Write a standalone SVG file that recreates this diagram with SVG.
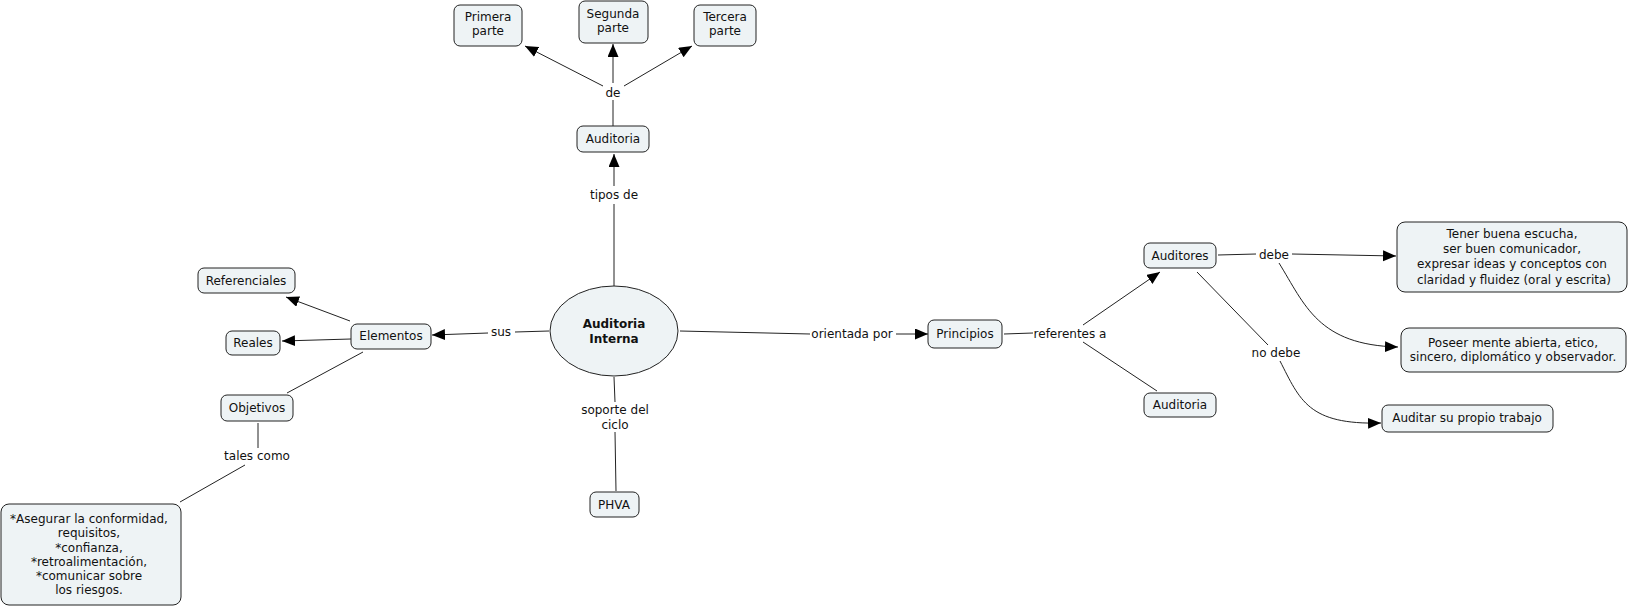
<svg xmlns="http://www.w3.org/2000/svg" width="1629" height="607" viewBox="0 0 1629 607">
<style>
  .node rect, .node ellipse { fill: #eef3f5; stroke: #222; stroke-width: 1; }
  text { font-family: "DejaVu Sans", Verdana, sans-serif; font-size: 12px; fill: #111; text-anchor: middle; }
  .bold { font-weight: bold; }
  .conn line, .conn path { stroke: #222; stroke-width: 1; fill: none; }
  .arrow { marker-end: url(#ah); }
</style>
<defs>
  <marker id="ah" markerUnits="userSpaceOnUse" markerWidth="14" markerHeight="12" refX="13" refY="5.5" orient="auto">
    <path d="M0,0 L13,5.5 L0,11 z" fill="#000"/>
  </marker>
</defs>
<rect width="1629" height="607" fill="#fff"/>
<g id="connectors" class="conn">
  <line x1="614" y1="286" x2="614" y2="204"/>
  <line class="arrow" x1="614" y1="186" x2="614" y2="154"/>
  <line x1="613" y1="126" x2="613" y2="100"/>
  <line class="arrow" x1="603" y1="86" x2="525" y2="46"/>
  <line class="arrow" x1="613" y1="83" x2="613" y2="44"/>
  <line class="arrow" x1="624" y1="86" x2="692" y2="46"/>
  <line x1="549" y1="331" x2="515" y2="332"/>
  <line class="arrow" x1="488" y1="333" x2="432" y2="335"/>
  <line class="arrow" x1="350" y1="321" x2="286" y2="297"/>
  <line class="arrow" x1="351" y1="339" x2="282" y2="341"/>
  <line x1="363" y1="352" x2="287" y2="393"/>
  <line x1="258" y1="423" x2="258" y2="448"/>
  <line x1="245" y1="465" x2="180" y2="502"/>
  <line x1="614" y1="377" x2="615" y2="402"/>
  <line x1="615" y1="432" x2="616" y2="491"/>
  <line x1="680" y1="331" x2="810" y2="334"/>
  <line class="arrow" x1="896" y1="334" x2="928" y2="334"/>
  <line x1="1004" y1="334" x2="1033" y2="333"/>
  <line class="arrow" x1="1083" y1="325" x2="1160" y2="272"/>
  <line x1="1083" y1="342" x2="1157" y2="391"/>
  <line x1="1218" y1="255" x2="1256" y2="254"/>
  <line class="arrow" x1="1292" y1="254" x2="1396" y2="256"/>
  <path class="arrow" d="M1279,263 C1305,305 1318,345 1398,347"/>
  <line x1="1197" y1="272" x2="1268" y2="345"/>
  <path class="arrow" d="M1280,361 C1300,400 1308,425 1381,423"/>
</g>
<g id="labels">
  <text x="613" y="97">de</text>
  <text x="614" y="199">tipos de</text>
  <text x="501" y="336">sus</text>
  <text x="852" y="338">orientada por</text>
  <text x="1070" y="338">referentes a</text>
  <text x="1274" y="259">debe</text>
  <text x="1276" y="357">no debe</text>
  <text x="615" y="414">soporte del</text>
  <text x="615" y="429">ciclo</text>
  <text x="257" y="460">tales como</text>
</g>
<g id="n-central" class="node">
  <ellipse cx="614" cy="331" rx="64" ry="45"/>
  <text class="bold" x="614" y="328">Auditoria</text>
  <text class="bold" x="614" y="343">Interna</text>
</g>
<g id="n-auditoria-top" class="node">
  <rect x="577" y="126" width="72" height="26" rx="6"/>
  <text x="613" y="143">Auditoria</text>
</g>
<g id="n-primera" class="node">
  <rect x="454" y="5" width="68" height="41" rx="6"/>
  <text x="488" y="21">Primera</text>
  <text x="488" y="35">parte</text>
</g>
<g id="n-segunda" class="node">
  <rect x="579" y="1" width="69" height="42" rx="6"/>
  <text x="613" y="18">Segunda</text>
  <text x="613" y="32">parte</text>
</g>
<g id="n-tercera" class="node">
  <rect x="694" y="5" width="62" height="41" rx="6"/>
  <text x="725" y="21">Tercera</text>
  <text x="725" y="35">parte</text>
</g>
<g id="n-elementos" class="node">
  <rect x="351" y="324" width="80" height="25" rx="6"/>
  <text x="391" y="340">Elementos</text>
</g>
<g id="n-referenciales" class="node">
  <rect x="198" y="268" width="97" height="25" rx="6"/>
  <text x="246" y="285">Referenciales</text>
</g>
<g id="n-reales" class="node">
  <rect x="226" y="331" width="54" height="24" rx="6"/>
  <text x="253" y="347">Reales</text>
</g>
<g id="n-objetivos" class="node">
  <rect x="221" y="395" width="72" height="26" rx="6"/>
  <text x="257" y="412">Objetivos</text>
</g>
<g id="n-asegurar" class="node">
  <rect x="1" y="504" width="180" height="101" rx="8"/>
  <text x="89" y="523">*Asegurar la conformidad,</text>
  <text x="89" y="537">requisitos,</text>
  <text x="89" y="552">*confianza,</text>
  <text x="89" y="566">*retroalimentación,</text>
  <text x="89" y="580">*comunicar sobre</text>
  <text x="89" y="594">los riesgos.</text>
</g>
<g id="n-phva" class="node">
  <rect x="590" y="492" width="49" height="25" rx="6"/>
  <text x="614" y="509">PHVA</text>
</g>
<g id="n-principios" class="node">
  <rect x="928" y="320" width="74" height="28" rx="6"/>
  <text x="965" y="338">Principios</text>
</g>
<g id="n-auditores" class="node">
  <rect x="1144" y="243" width="72" height="25" rx="6"/>
  <text x="1180" y="260">Auditores</text>
</g>
<g id="n-auditoria-right" class="node">
  <rect x="1144" y="393" width="72" height="24" rx="6"/>
  <text x="1180" y="409">Auditoria</text>
</g>
<g id="n-tener" class="node">
  <rect x="1397" y="222" width="230" height="70" rx="8"/>
  <text x="1512" y="238">Tener buena escucha,</text>
  <text x="1512" y="253">ser buen comunicador,</text>
  <text x="1512" y="268">expresar ideas y conceptos con</text>
  <text x="1514" y="284">claridad y fluidez (oral y escrita)</text>
</g>
<g id="n-poseer" class="node">
  <rect x="1401" y="328" width="225" height="44" rx="8"/>
  <text x="1513" y="347">Poseer mente abierta, etico,</text>
  <text x="1513" y="361">sincero, diplomático y observador.</text>
</g>
<g id="n-auditar" class="node">
  <rect x="1382" y="405" width="171" height="27" rx="6"/>
  <text x="1467" y="422">Auditar su propio trabajo</text>
</g>
</svg>
